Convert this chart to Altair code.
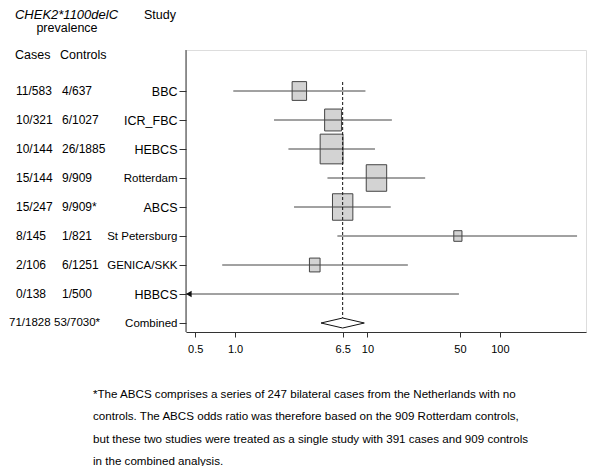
import math
import altair as alt
import pandas as pd

# ---------------- data ----------------
studies = ["BBC", "ICR_FBC", "HEBCS", "Rotterdam", "ABCS", "St Petersburg",
           "GENICA/SKK", "HBBCS", "Combined"]
cases = ["11/583", "10/321", "10/144", "15/144", "15/247", "8/145", "2/106",
         "0/138", "71/1828"]
controls = ["4/637", "6/1027", "26/1885", "9/909", "9/909*", "1/821", "6/1251",
            "1/500", "53/7030*"]
odds_ratio = [3.06, 5.5, 5.36, 11.7, 6.5, 48.2, 4.0, 0.0, 6.5]
ci_low = [0.97, 1.97, 2.53, 4.99, 2.79, 5.93, 0.80, 0.0, 4.47]
ci_high = [9.66, 15.3, 11.4, 27.3, 15.0, 383.0, 20.2, 49.1, 9.49]
weight = [10.3, 14.0, 25.8, 20.6, 20.5, 3.3, 5.6, 0.0, 0.0]
x_ticks = [0.5, 1.0, 6.5, 10, 50, 100]
small_labels = ["Rotterdam", "St Petersburg", "GENICA/SKK", "Combined"]
footnote = [
    "*The ABCS comprises a series of 247 bilateral cases from the Netherlands with no",
    "controls. The ABCS odds ratio was therefore based on the 909 Rotterdam controls,",
    "but these two studies were treated as a single study with 391 cases and 909 controls",
    "in the combined analysis.",
]

df = pd.DataFrame({"study": studies, "cases": cases, "controls": controls,
                   "est": odds_ratio, "lo": ci_low, "hi": ci_high, "w": weight})
one = pd.DataFrame({"a": [0]})

# ---------------- layout / style ----------------
W, H = 400, 282
XMIN, XMAX = 0.4262, 447.5
F = "Liberation Sans"
AX = "#333333"
LINE = "#444444"

x_scale = alt.Scale(type="log", domain=[XMIN, XMAX], nice=False)
x_axis = alt.Axis(values=x_ticks, labelExpr="datum.value == 1 ? '1.0' : toString(datum.value)",
                  tickSize=5, labelFontSize=11, labelPadding=6, labelFont=F,
                  domainColor=AX, tickColor=AX, labelColor="#000", grid=False,
                  title=None, labelFlush=False, labelOverlap=False)


def X(field):
    return alt.X(field, scale=x_scale, axis=x_axis)


y = alt.Y("study:N", sort=studies,
          scale=alt.Scale(type="point", range=[41, 273], padding=0),
          axis=alt.Axis(domain=False, tickSize=7, tickColor=AX, labelPadding=2,
                        labelFont=F, labelColor="#000", title=None, grid=False,
                        labelFontSize={"condition": {
                            "test": "indexof(" + str(small_labels) + ", datum.value) >= 0",
                            "value": 11.5}, "value": 12.5}))

base = alt.Chart(df)

yaxis_line = alt.Chart(one).mark_rule(color=AX, strokeWidth=1).encode(
    x=alt.value(0), y=alt.value(0), y2=alt.value(H))

BOX = "M-0.77,-1L0.77,-1L0.77,1L-0.77,1Z"
boxes = base.transform_filter("datum.w > 0").mark_point(
    shape=BOX, filled=True, fill="#d3d3d3", stroke=LINE, strokeWidth=1, opacity=1
).encode(
    x=X("est:Q"), y=y,
    size=alt.Size("w:Q", scale=alt.Scale(domain=[0, 25.8], range=[0, 882]), legend=None))

ci = base.transform_filter("datum.study != 'Combined'").transform_calculate(
    lo_plot=f"datum.lo > 0 ? datum.lo : {XMIN}"
).mark_rule(color=LINE, strokeWidth=1).encode(x=X("lo_plot:Q"), x2="hi:Q", y=y)

ARROW = "M0,0L1.7,-1L1.7,1Z"
arrow = base.transform_filter("datum.lo <= 0 && datum.study != 'Combined'").transform_calculate(
    xa=str(XMIN)
).mark_point(shape=ARROW, filled=True, fill="#111", size=44, opacity=1).encode(
    x=X("xa:Q"), y=y)

comb = base.transform_filter("datum.study == 'Combined'")
dashed = comb.mark_rule(color="#111", strokeDash=[3, 2], strokeWidth=1).encode(
    x=X("est:Q"), y=alt.value(32), y2=alt.value(268))

ppd = W / (math.log10(XMAX) - math.log10(XMIN))
dw = (math.log10(ci_high[-1]) - math.log10(ci_low[-1])) * ppd
hh = 5.0 / (dw / 2)
DIAMOND = f"M-1,0L0,-{hh:.4f}L1,0L0,{hh:.4f}Z"
diamond = comb.mark_point(shape=DIAMOND, filled=True, fill="white", stroke="#111",
                          strokeWidth=1, size=dw * dw, opacity=1).encode(
    x=X("est:Q"), y=y)

txt = dict(align="left", baseline="middle", fontSize=12, font=F, color="#000")
txt_c = dict(txt, fontSize=11.5)
not_comb = base.transform_filter("datum.study != 'Combined'")
cases_t = not_comb.mark_text(**txt).encode(x=alt.value(-170), y=y, text="cases:N")
cases_c = comb.mark_text(**txt_c).encode(x=alt.value(-177), y=y, text="cases:N")
ctrl_t = not_comb.mark_text(**txt).encode(x=alt.value(-124), y=y, text="controls:N")
ctrl_c = comb.mark_text(**txt_c).encode(x=alt.value(-132), y=y, text="controls:N")

hdr = dict(baseline="middle", fontSize=12.5, font=F, color="#000")
h1 = alt.Chart(one).mark_text(text="CHEK2*1100delC", fontStyle="italic", align="center",
                              baseline="middle", fontSize=13, font=F, color="#000").encode(
    x=alt.value(-119.5), y=alt.value(-35))
h2 = alt.Chart(one).mark_text(text="prevalence", align="center", **hdr).encode(
    x=alt.value(-119), y=alt.value(-22))
h3 = alt.Chart(one).mark_text(text="Study", align="left", **hdr).encode(
    x=alt.value(-42), y=alt.value(-35))
h4 = alt.Chart(one).mark_text(text="Cases", align="left", **hdr).encode(
    x=alt.value(-171), y=alt.value(5))
h5 = alt.Chart(one).mark_text(text="Controls", align="left", **hdr).encode(
    x=alt.value(-126), y=alt.value(5))

foot = alt.Chart(one).mark_text(text="\n".join(footnote), lineBreak="\n", lineHeight=22.3,
                                align="left", baseline="top", fontSize=11.6, font=F,
                                color="#000").encode(x=alt.value(-93), y=alt.value(339))

chart = alt.layer(
    yaxis_line, boxes, ci, arrow, dashed, diamond,
    cases_t, cases_c, ctrl_t, ctrl_c, h1, h2, h3, h4, h5, foot
).properties(
    width=W, height=H,
    autosize=alt.AutoSizeParams(type="none"),
    padding={"left": 178, "top": 42, "right": 7, "bottom": 134},
).configure_view(stroke=None).configure(background="white")

chart.save("out.html", embed_options={"renderer": "svg", "actions": False})
